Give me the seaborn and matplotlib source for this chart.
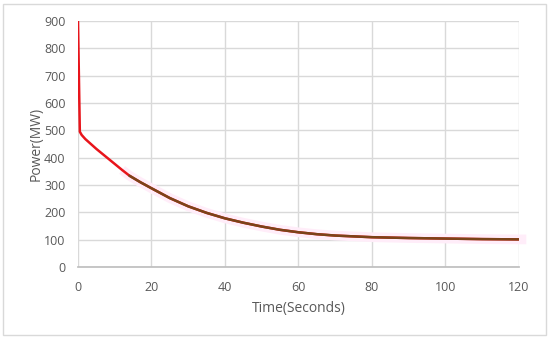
import matplotlib
matplotlib.use("Agg")
import matplotlib.pyplot as plt
import seaborn as sns
import pandas as pd
from matplotlib.patches import Rectangle

time_s = [0, 0.5, 1, 2, 3, 5, 8, 10, 12, 14, 17, 20, 25, 30, 35, 40, 45, 50, 55, 60,
          65, 70, 75, 80, 90, 100, 110, 120]
power_mw = [900, 495, 483, 468, 456, 432, 399, 377, 355, 334, 310, 288, 252, 222, 198,
            178, 162, 148, 136, 127, 120, 115, 112, 109, 106, 104, 102, 101]
overlay_start = 13

sns.set_theme(style="white")
plt.rcParams['font.family'] = ['Open Sans', 'DejaVu Sans']

df = pd.DataFrame({"Time": time_s, "Power": power_mw})
df2 = df[df["Time"] >= 12].copy()

fig = plt.figure(figsize=(5.5, 3.39), dpi=100)
ax = fig.add_axes([0.1418, 0.2124, 0.8018, 0.7257])

# faint pink highlight band
ax.plot(df2["Time"].tolist() + [122], df2["Power"].tolist() + [101],
        color="#FFEDF9", lw=7, solid_capstyle="butt", zorder=1, clip_on=False)
sns.lineplot(data=df, x="Time", y="Power", ax=ax, color="#E8141B", lw=1.8, zorder=3)
df3 = df[df["Time"] >= overlay_start]
sns.lineplot(data=df3, x="Time", y="Power", ax=ax, color="#7A4419", lw=1.8, zorder=4)

ax.set_xlim(0, 120)
ax.set_ylim(0, 900)
ax.set_xticks(range(0, 121, 20))
ax.set_yticks(range(0, 901, 100))
ax.grid(True, color="#D9D9D9", lw=1)
ax.set_axisbelow(True)
for s in ["top", "right", "left"]:
    ax.spines[s].set_visible(False)
ax.spines["bottom"].set_color("#BFBFBF")
ax.tick_params(axis="both", colors="#595959", labelsize=9, length=0)
ax.tick_params(axis="x", pad=10)
ax.tick_params(axis="y", pad=9)
ax.set_xlabel("Time(Seconds)", color="#595959", fontsize=10, labelpad=5)
ax.set_ylabel("Power(MW)", color="#595959", fontsize=10, labelpad=0)

fig.patches.append(Rectangle((3/550, 4/339), 543/550, 331/339, transform=fig.transFigure,
                             fill=False, edgecolor="#D9D9D9", lw=1))

fig.savefig("out.png", dpi=100)
